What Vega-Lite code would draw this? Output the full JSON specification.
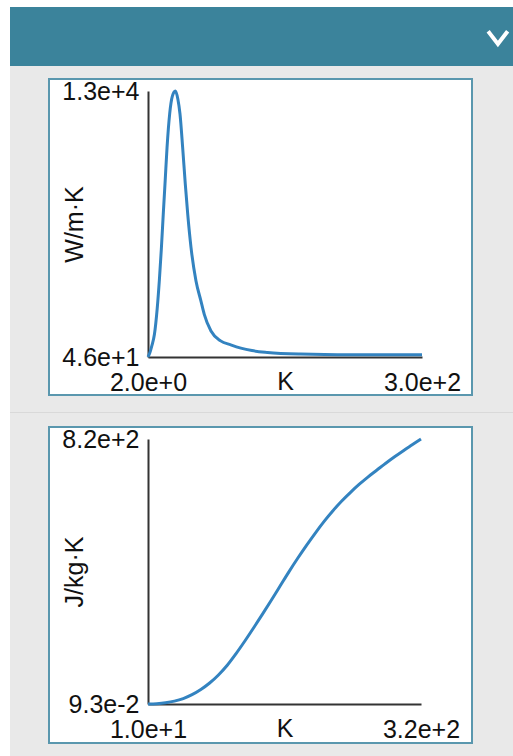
{
  "$schema": "https://vega.github.io/schema/vega-lite/v6.json",
  "background": "#e9e9e9",
  "padding": 0,
  "spacing": 0,
  "config": {
    "view": {"stroke": null},
    "concat": {"spacing": 0},
    "axis": {
      "labelFont": "Liberation Sans", "labelFontSize": 25, "labelColor": "#111",
      "titleFont": "Liberation Sans", "titleFontSize": 25, "titleFontWeight": "normal", "titleColor": "#111",
      "grid": false, "ticks": false, "domainColor": "#333", "domainWidth": 2,
      "labelFlush": false, "labelOverlap": false, "labelBound": false
    }
  },
  "hconcat": [
    {"width": 10, "height": 756, "data": {"values": []}, "mark": "point", "view": {"fill": "#ffffff", "stroke": null}},
    {"vconcat": [
      {"width": 503, "height": 7, "data": {"values": []}, "mark": "point", "view": {"fill": "#ffffff", "stroke": null}},
      {"width": 503, "height": 59, "view": {"fill": "#3b839b", "stroke": null},
       "data": {"values": [{"control": "collapse"}]},
       "mark": {"type": "point", "shape": "M-1,-0.7L0,0.6L1,-0.7", "filled": false, "stroke": "#ffffff", "strokeWidth": 4, "size": 290, "strokeCap": "square", "strokeJoin": "miter", "opacity": 1},
       "encoding": {
         "x": {"datum": 0.97, "type": "quantitative", "scale": {"domain": [0, 1]}, "axis": null},
         "y": {"datum": 0.46, "type": "quantitative", "scale": {"domain": [0, 1]}, "axis": null}
       }
      },
      {"width": 503, "height": 12, "data": {"values": []}, "mark": "point"},
      {"hconcat": [
        {"width": 38, "height": 316, "data": {"values": []}, "mark": "point"},
        {"width": 423, "height": 316,
         "view": {"fill": "#ffffff", "stroke": "#5a97ae", "strokeWidth": 2},
         "data": {"values": [
           {"T": 2, "k": 46}, {"T": 4, "k": 250}, {"T": 6, "k": 560}, {"T": 9, "k": 1150},
           {"T": 12, "k": 2400}, {"T": 14.3, "k": 3750}, {"T": 16.5, "k": 5300}, {"T": 18.6, "k": 7000},
           {"T": 20.7, "k": 8650}, {"T": 22.7, "k": 10240}, {"T": 25.6, "k": 11900}, {"T": 28.5, "k": 12750},
           {"T": 31.7, "k": 13000}, {"T": 34.5, "k": 12600}, {"T": 36.8, "k": 11880}, {"T": 39.7, "k": 10240},
           {"T": 42.5, "k": 8500}, {"T": 45.2, "k": 7000}, {"T": 48.8, "k": 5370}, {"T": 54.2, "k": 3750},
           {"T": 59.6, "k": 2770}, {"T": 63.2, "k": 2125}, {"T": 70.5, "k": 1310}, {"T": 81, "k": 830},
           {"T": 92, "k": 640}, {"T": 103, "k": 480}, {"T": 115, "k": 360}, {"T": 132, "k": 270},
           {"T": 168, "k": 190}, {"T": 223, "k": 155}, {"T": 300, "k": 150}
         ]},
         "mark": {"type": "line", "color": "#3383c0", "strokeWidth": 3, "interpolate": "monotone"},
         "encoding": {
           "x": {"field": "T", "type": "quantitative",
                 "scale": {"domain": [2, 300], "range": [99, 373], "zero": false, "nice": false},
                 "axis": {"values": [2, 300], "format": ".1e", "title": "K", "offset": -38, "labelPadding": 13, "titleY": 32, "titleBaseline": "alphabetic"}},
           "y": {"field": "k", "type": "quantitative",
                 "scale": {"domain": [46, 13000], "range": [278, 12], "zero": false, "nice": false},
                 "axis": {"values": [46, 13000], "format": ".1e", "title": "W/m·K", "offset": -99, "labelPadding": 9, "labelBaseline": "middle", "titleX": -66, "titleBaseline": "alphabetic"}}
         }
        }
      ]},
      {"width": 503, "height": 16, "data": {"values": []}, "mark": "point"},
      {"width": 503, "height": 1, "data": {"values": []}, "mark": "point", "view": {"fill": "#d9d9d9", "stroke": null}},
      {"width": 503, "height": 13, "data": {"values": []}, "mark": "point"},
      {"hconcat": [
        {"width": 38, "height": 316, "data": {"values": []}, "mark": "point"},
        {"width": 423, "height": 316,
         "view": {"fill": "#ffffff", "stroke": "#5a97ae", "strokeWidth": 2},
         "data": {"values": [
           {"T": 10, "c": 0.093}, {"T": 20, "c": 1.2}, {"T": 30, "c": 4}, {"T": 40, "c": 9},
           {"T": 50, "c": 17}, {"T": 60, "c": 29}, {"T": 70, "c": 45}, {"T": 80, "c": 65},
           {"T": 90, "c": 90}, {"T": 100, "c": 120}, {"T": 110, "c": 156}, {"T": 120, "c": 195},
           {"T": 130, "c": 236}, {"T": 140, "c": 278}, {"T": 150, "c": 321}, {"T": 160, "c": 365},
           {"T": 170, "c": 409}, {"T": 180, "c": 451}, {"T": 190, "c": 491}, {"T": 200, "c": 529},
           {"T": 210, "c": 565}, {"T": 220, "c": 598}, {"T": 230, "c": 628}, {"T": 240, "c": 655},
           {"T": 250, "c": 680}, {"T": 260, "c": 703}, {"T": 270, "c": 724}, {"T": 280, "c": 745},
           {"T": 290, "c": 765}, {"T": 300, "c": 784}, {"T": 310, "c": 802}, {"T": 320, "c": 820}
         ]},
         "mark": {"type": "line", "color": "#3383c0", "strokeWidth": 3, "interpolate": "monotone"},
         "encoding": {
           "x": {"field": "T", "type": "quantitative",
                 "scale": {"domain": [10, 320], "range": [99, 372], "zero": false, "nice": false},
                 "axis": {"values": [10, 320], "format": ".1e", "title": "K", "offset": -39, "labelPadding": 13, "titleY": 32, "titleBaseline": "alphabetic"}},
           "y": {"field": "c", "type": "quantitative",
                 "scale": {"domain": [0.093, 820], "range": [277, 12], "zero": false, "nice": false},
                 "axis": {"values": [0.093, 820], "format": ".1e", "title": "J/kg·K", "offset": -99, "labelPadding": 9, "labelBaseline": "middle", "titleX": -66, "titleBaseline": "alphabetic"}}
         }
        }
      ]},
      {"width": 503, "height": 16, "data": {"values": []}, "mark": "point"}
    ]}
  ]
}
